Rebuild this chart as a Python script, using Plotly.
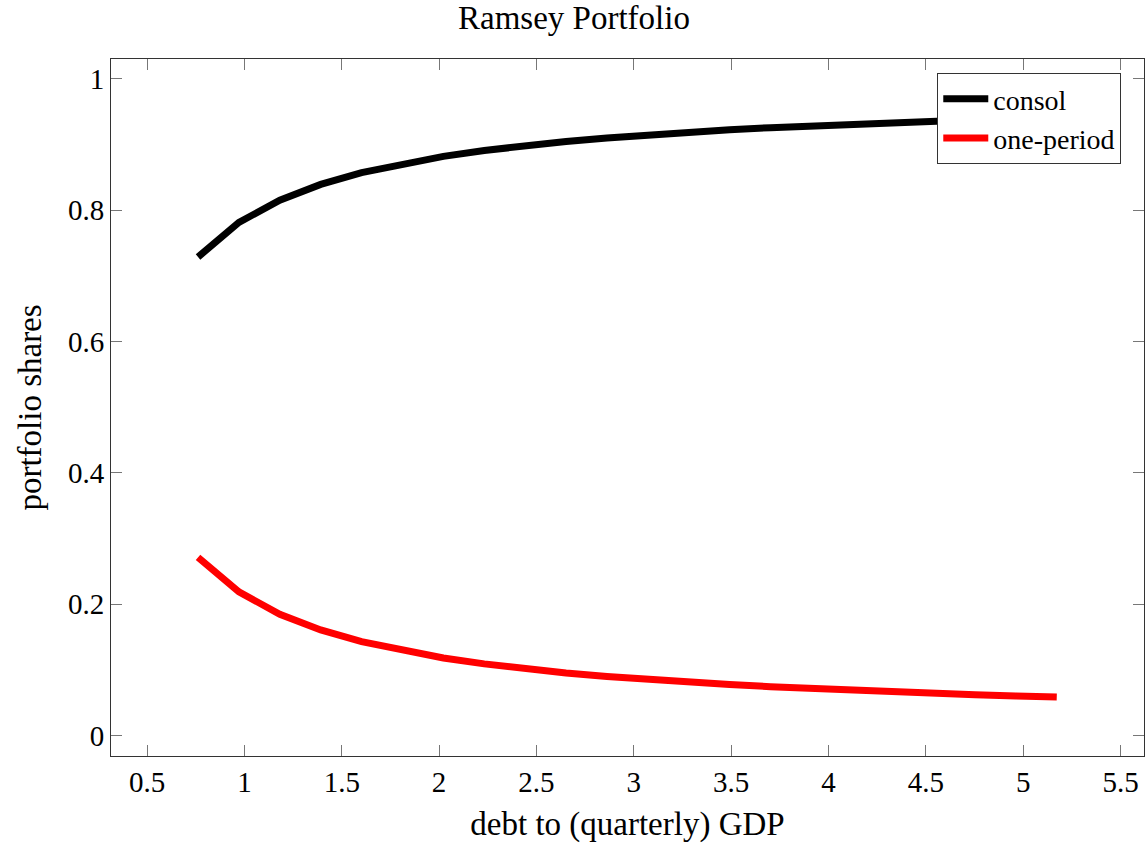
import plotly.graph_objects as go

# debt-to-quarterly-GDP grid
debt_gdp = [0.762, 0.972, 1.182, 1.392, 1.602, 1.812, 2.022, 2.232, 2.442, 2.652, 2.862,
            3.072, 3.282, 3.492, 3.702, 3.912, 4.122, 4.332, 4.542, 4.752, 4.962, 5.172]

# portfolio shares of each bond type
consol = [0.7286, 0.7812, 0.8152, 0.8391, 0.8570, 0.8707, 0.8818, 0.8908, 0.8983, 0.9045,
          0.9099, 0.9145, 0.9186, 0.9222, 0.9255, 0.9284, 0.9310, 0.9334, 0.9356, 0.9376,
          0.9395, 0.9413]
one_period = [0.2714, 0.2188, 0.1848, 0.1609, 0.1430, 0.1293, 0.1182, 0.1092, 0.1017, 0.0955,
              0.0901, 0.0855, 0.0814, 0.0778, 0.0745, 0.0716, 0.0690, 0.0666, 0.0644, 0.0624,
              0.0605, 0.0587]

x_ticks = [0.5, 1, 1.5, 2, 2.5, 3, 3.5, 4, 4.5, 5, 5.5]
x_tick_text = ["0.5", "1", "1.5", "2", "2.5", "3", "3.5", "4", "4.5", "5", "5.5"]
y_ticks = [0, 0.2, 0.4, 0.6, 0.8, 1]
y_tick_text = ["0", "0.2", "0.4", "0.6", "0.8", "1"]

FONT = "Liberation Serif"
TEXT_SIZE = 33
TICK_SIZE = 29
LEGEND_SIZE = 28

fig = go.Figure()
fig.add_trace(go.Scatter(x=debt_gdp, y=consol, mode="lines", name="consol",
                         line=dict(color="black", width=7)))
fig.add_trace(go.Scatter(x=debt_gdp, y=one_period, mode="lines", name="one-period",
                         line=dict(color="red", width=7)))

axis_common = dict(
    showline=True, linecolor="#333", linewidth=1, mirror="allticks",
    ticks="inside", ticklen=11, tickwidth=1, tickcolor="#777",
    showgrid=False, zeroline=False,
    tickfont=dict(family=FONT, size=TICK_SIZE, color="black"),
)

fig.update_layout(
    width=1148, height=844,
    margin=dict(l=111, r=4, t=59, b=88),
    paper_bgcolor="white", plot_bgcolor="white",
    title=dict(text="Ramsey Portfolio", x=0.5, xanchor="center", y=0.979, yanchor="middle",
               font=dict(family=FONT, size=TEXT_SIZE, color="black")),
    xaxis=dict(range=[0.315, 5.62], tickvals=x_ticks, ticktext=x_tick_text,
               title=dict(text="debt to (quarterly) GDP", standoff=15,
                          font=dict(family=FONT, size=TEXT_SIZE, color="black")),
               **axis_common),
    yaxis=dict(range=[-0.031, 1.030], tickvals=y_ticks, ticktext=y_tick_text,
               title=dict(text="portfolio shares", standoff=16,
                          font=dict(family=FONT, size=TEXT_SIZE, color="black")),
               **axis_common),
    legend=dict(x=0.978, y=0.980, xanchor="right", yanchor="top",
                bgcolor="white", bordercolor="#333", borderwidth=1,
                font=dict(family=FONT, size=LEGEND_SIZE, color="black"),
                itemwidth=45, tracegroupgap=0),
    showlegend=True,
)

fig.write_html("out.html")
